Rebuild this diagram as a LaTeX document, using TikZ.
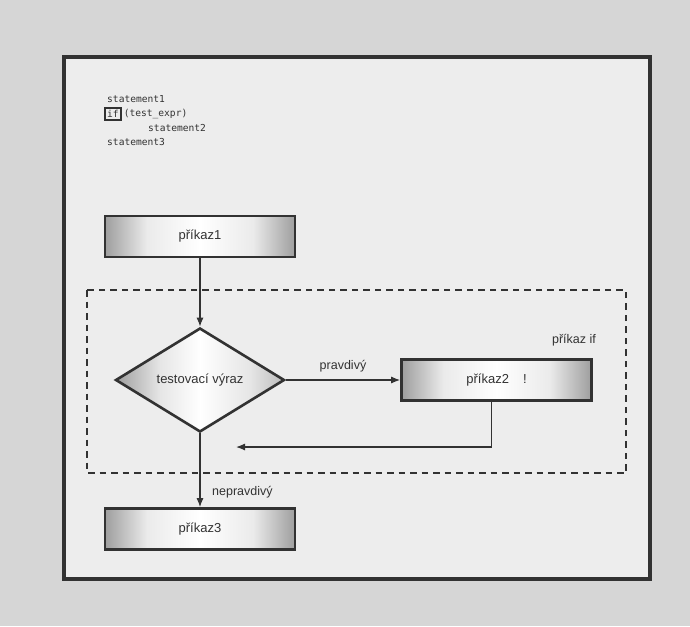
\documentclass[tikz,border=0pt]{standalone}
\usepackage{fontspec}
\setmainfont{Liberation Sans}
\newfontfamily\codefont{DejaVu Sans Mono}
\usetikzlibrary{shapes.geometric,arrows.meta}
\definecolor{bgout}{RGB}{214,214,214}
\definecolor{bgin}{RGB}{237,237,237}
\definecolor{ink}{RGB}{50,50,50}
\definecolor{shadegray}{RGB}{158,158,158}
\pgfdeclarehorizontalshading{boxshade}{100bp}{color(0bp)=(shadegray); color(25bp)=(shadegray); color(36bp)=(white!92!black); color(50bp)=(white); color(64bp)=(white!92!black); color(75bp)=(shadegray); color(100bp)=(shadegray)}
\pgfdeclarehorizontalshading{diashade}{100bp}{color(0bp)=(shadegray); color(25bp)=(shadegray); color(38bp)=(white!90!black); color(50bp)=(white); color(65bp)=(white!90!black); color(75bp)=(shadegray!70); color(100bp)=(shadegray!70)}
\begin{document}
\begin{tikzpicture}[x=1pt,y=-1pt,
  procbox/.style={draw=ink, line width=2.6pt, shading=boxshade,
    minimum width=190pt, minimum height=41pt, inner sep=0pt, font=\fontsize{13}{15}\selectfont, text=ink},
  decision/.style={diamond, aspect=1.613, draw=ink, line width=2.6pt, shading=diashade,
    minimum width=169pt, minimum height=104pt, inner sep=0pt, font=\fontsize{13}{15}\selectfont, text=ink},
  conn/.style={draw=ink, line width=1.2pt, -{Latex[length=9pt,width=7pt]}},
  lbl/.style={font=\fontsize{12.5}{14}\selectfont, text=ink, inner sep=0pt},
  code/.style={font=\codefont\fontsize{9.6}{11}\selectfont, text=ink, anchor=west, inner sep=0pt}
]
\useasboundingbox (0,0) rectangle (690,626);
\fill[bgout] (0,0) rectangle (690,626);
\draw[ink, line width=3.5pt, fill=bgin] (64,57) rectangle (650,579);
\draw[ink, line width=2.6pt, dash pattern=on 6.5pt off 5pt] (87,290) rectangle (626,473);

% code
\node[code] (s1) at (107,99) {statement1};
\node[code, draw=ink, line width=2pt, inner sep=2pt] (ifkw) at (104,114) {if};
\node[code] (te) at ([xshift=2pt]ifkw.east) {(test\_expr)};
\node[code] (s2) at (148,128) {statement2};
\node[code] (s3) at (107,142) {statement3};

% flowchart
\node[procbox] (p1) at (200,236.5) {příkaz1};
\node[decision] (d) at (200,380) {testovací výraz};
\node[procbox] (p2) at (496.5,380) {příkaz2\hspace{14pt}!};
\node[procbox] (p3) at (200,529) {příkaz3};
\coordinate (ret) at (236,447);

\draw[conn] (p1.south) -- (d.north);
\draw[conn] (d.east) -- (p2.west) node[lbl, midway, above=7pt] (tl) {pravdivý};
\draw[conn] ([xshift=-5pt]p2.south) |- (ret);
\draw[conn] (d.south) -- (p3.north);
\node[lbl, anchor=west] (fl) at (212,492) {nepravdivý};
\node[lbl] (ifl) at (574,340) {příkaz if};
\end{tikzpicture}
\end{document}
